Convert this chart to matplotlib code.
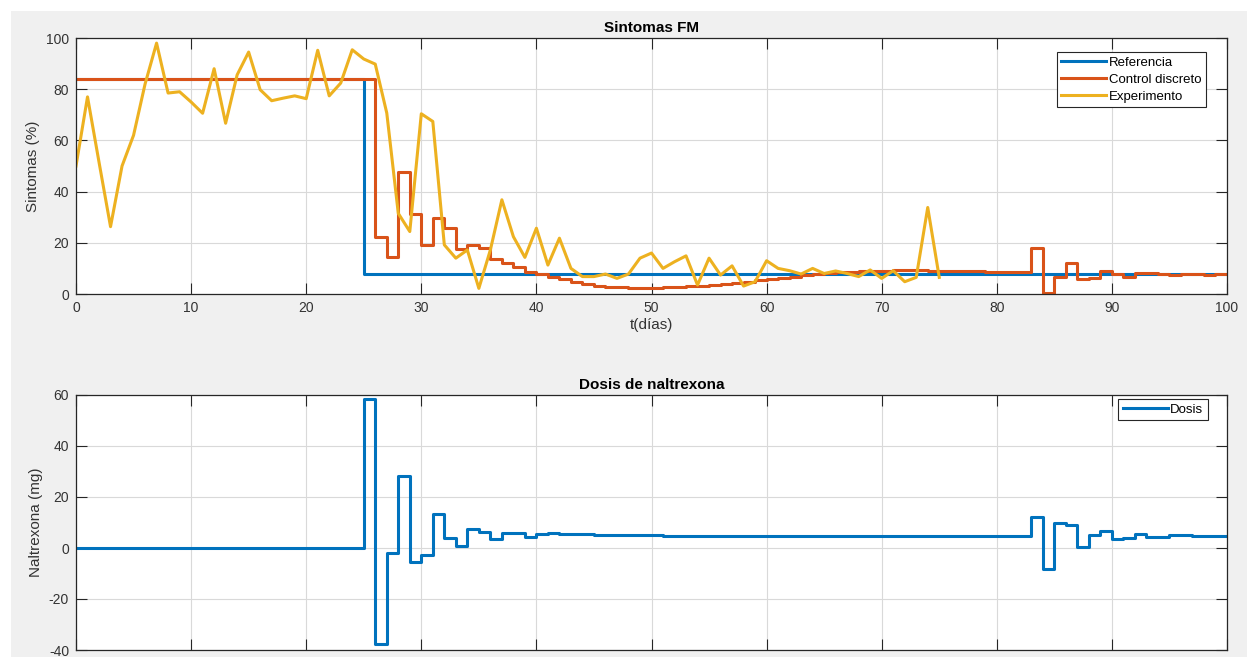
import matplotlib
matplotlib.use("Agg")
import matplotlib.pyplot as plt
from matplotlib.patches import Rectangle
import numpy as np

plt.rcParams['font.family'] = ['Liberation Sans', 'DejaVu Sans']
plt.rcParams['axes.unicode_minus'] = False

# ---------------- data ----------------
days_exp = list(range(0, 76))
experimento = [50, 77, 51.5, 26.3, 50, 62, 82, 98, 78.5, 79,
               75, 70.6, 88, 66.7, 85.6, 94.5, 79.8, 75.5, 76.5, 77.4,
               76.3, 95.2, 77.4, 82.4, 95.4, 91.8, 89.8, 70.7, 31.5, 24.4,
               70.4, 67.4, 19.2, 14, 17.2, 2.2, 17.2, 36.8, 22.4, 14.3,
               25.7, 11.3, 21.8, 10, 6.8, 6.8, 7.8, 6.1, 7.8, 14,
               16, 10, 12.6, 14.9, 3.5, 14, 7.4, 11, 3.1, 4.8,
               13, 10, 9.1, 7.8, 10, 8, 9, 8, 6.8, 9.4,
               6.1, 9.1, 4.8, 6.5, 33.8, 6.5]

ref_t = [0, 25, 100]
referencia = [84, 8, 8]

days_ctrl = list(range(0, 101))
control = [84] * 26 + [
    22.4, 14.6, 47.5, 31.2, 19.2, 29.6, 25.7, 17.5, 19.2, 17.9,      # 26-35
    13.6, 12.3, 10.7, 8.7, 7.7, 6.8, 5.7, 4.6, 3.8, 3.3,             # 36-45
    2.9, 2.6, 2.5, 2.5, 2.5, 2.6, 2.8, 3.0, 3.2, 3.5,                # 46-55
    3.9, 4.3, 4.8, 5.3, 5.8, 6.3, 6.8, 7.3, 7.7, 8.1,                # 56-65
    8.4, 8.7, 8.9, 9.0, 9.1, 9.2, 9.2, 9.2, 9.1, 9.1,                # 66-75
    9.0, 8.9, 8.8, 8.7, 8.6, 8.5, 8.5, 18.1, 0.5, 6.8,               # 76-85
    12.3, 5.7, 6.4, 9.0, 7.7, 6.8, 8.1, 8.3, 7.8, 7.4,               # 86-95
    7.9, 7.9, 7.6, 7.7, 7.7]                                          # 96-100

dosis = [0] * 25 + [
    58.5, -37.8, -2.1, 28.2, -5.4, -2.7, 13.3, 3.8, 0.8, 7.5,        # 25-34
    6.2, 3.5, 5.8, 5.8, 4.4, 5.4, 5.8, 5.4, 5.4, 5.4,                # 35-44
    5.2, 5.2, 5.1, 5.1, 5.0, 5.0, 4.9, 4.9, 4.8, 4.8,                # 45-54
    4.8, 4.7, 4.7, 4.7, 4.7, 4.6, 4.6, 4.6, 4.6, 4.6,                # 55-64
    4.6, 4.6, 4.6, 4.6, 4.6, 4.6, 4.6, 4.6, 4.6, 4.6,                # 65-74
    4.6, 4.6, 4.6, 4.6, 4.6, 4.6, 4.6, 4.6, 12.3, -8.2,              # 75-84
    9.7, 9.0, 0.3, 5.1, 6.7, 3.4, 4.1, 5.4, 4.4, 4.4,                # 85-94
    5.1, 5.1, 4.6, 4.6, 4.6, 4.6]                                     # 95-100

xticks = list(range(0, 101, 10))
yticks_top = list(range(0, 101, 20))
yticks_bot = list(range(-40, 61, 20))

C_BLUE = '#0072BD'
C_RED = '#D95319'
C_YEL = '#EDB120'
AX_COL = '#262626'

W, H = 1247, 657
fig = plt.figure(figsize=(W / 100, H / 100), dpi=100, facecolor='white')
fig.patches.append(Rectangle((11 / W, 0), 1 - 11 / W, 1 - 11 / H,
                             transform=fig.transFigure, facecolor='#f0f0f0',
                             edgecolor='none', zorder=-10))

def frac(l, t, r, b):
    return [l / W, 1 - b / H, (r - l) / W, (b - t) / H]

ax1 = fig.add_axes(frac(76, 38, 1227, 294))
ax2 = fig.add_axes(frac(76, 395, 1227, 650))

LW = 2.2
for ax in (ax1, ax2):
    ax.set_facecolor('white')
    ax.set_xlim(0, 100)
    ax.set_xticks(xticks)
    ax.grid(True, color='#d9d9d9', linewidth=0.8)
    ax.set_axisbelow(True)
    ax.tick_params(direction='in', length=8, width=0.8, top=True, right=True,
                   colors=AX_COL, labelcolor='#333333', labelsize=10, pad=5)
    for s in ax.spines.values():
        s.set_color(AX_COL)
        s.set_linewidth(0.9)

ax1.step(ref_t, referencia, where='post', color=C_BLUE, lw=LW, label='Referencia')
ax1.step(days_ctrl, control, where='post', color=C_RED, lw=LW, label='Control discreto')
ax1.plot(days_exp, experimento, color=C_YEL, lw=LW, label='Experimento')
ax1.set_ylim(0, 100)
ax1.set_yticks(yticks_top)
ax1.set_title('Sintomas FM', fontsize=11, fontweight='bold', color='black', pad=4)
ax1.set_ylabel('Sintomas (%)', fontsize=11, color='#333333', labelpad=4)
ax1.set_xlabel('t(días)', fontsize=11, color='#333333', labelpad=2)
leg1 = ax1.legend(loc='upper right', bbox_to_anchor=(1 - 21 / 1151, 1 - 14 / 256),
                  borderaxespad=0, fontsize=9.5, handlelength=3.4, handletextpad=0.2,
                  labelspacing=0.35, borderpad=0.35, fancybox=False,
                  edgecolor='#262626', framealpha=1)
leg1.get_frame().set_linewidth(0.8)

ax2.step(days_ctrl, dosis, where='post', color=C_BLUE, lw=LW, label='Dosis')
ax2.set_ylim(-40, 60)
ax2.set_yticks(yticks_bot)
ax2.tick_params(labelbottom=False)
ax2.set_title('Dosis de naltrexona', fontsize=11, fontweight='bold', color='black', pad=4)
ax2.set_ylabel('Naltrexona (mg)', fontsize=11, color='#333333', labelpad=4)
leg2 = ax2.legend(loc='upper right', bbox_to_anchor=(1 - 19 / 1151, 1 - 4 / 255),
                  borderaxespad=0, fontsize=9.5, handlelength=3.4, handletextpad=0.2,
                  borderpad=0.35, fancybox=False, edgecolor='#262626', framealpha=1)
leg2.get_frame().set_linewidth(0.8)

fig.savefig('out.png', dpi=100, facecolor=fig.get_facecolor())
